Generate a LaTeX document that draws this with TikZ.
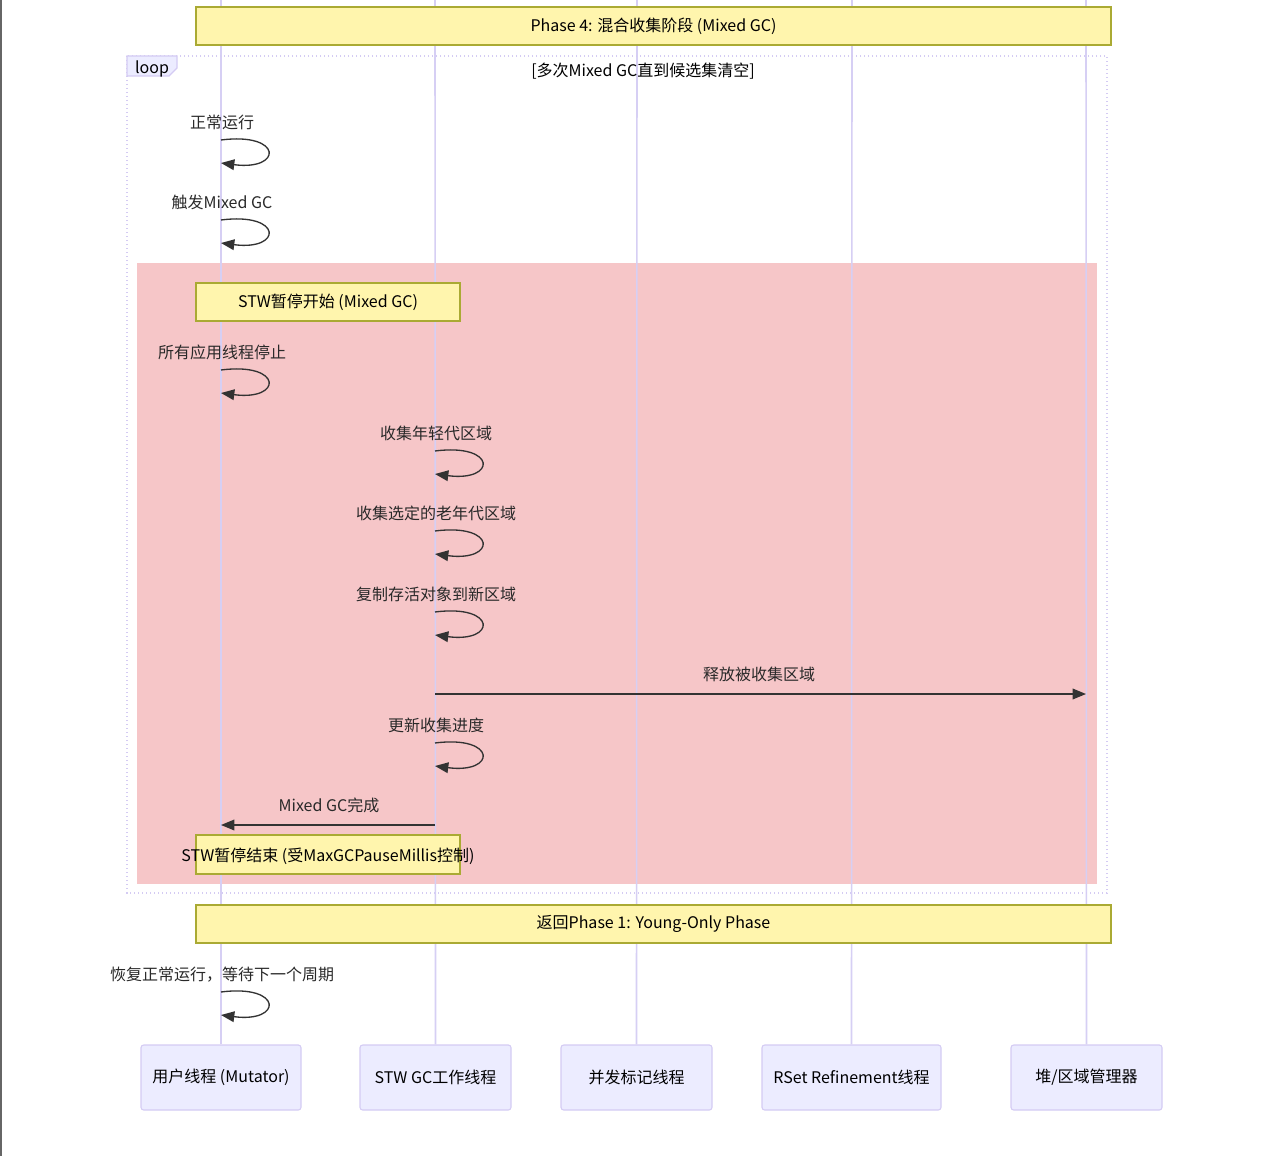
\documentclass[tikz,border=0pt]{standalone}
\usepackage{fontspec}
\setmainfont{Noto Sans CJK SC}
\usetikzlibrary{arrows.meta}
\definecolor{notafondo}{HTML}{FFF5AD}
\definecolor{notaborde}{HTML}{AAAA33}
\definecolor{actorfondo}{HTML}{ECECFF}
\definecolor{actorborde}{HTML}{D4CBF3}
\definecolor{vida}{HTML}{D6CFF4}
\definecolor{rosa}{HTML}{F6C6C8}
\definecolor{tinta}{HTML}{333333}

\begin{document}
\begin{tikzpicture}[x=0.75pt,y=-0.75pt,
   nota/.style={draw=notaborde,fill=notafondo,line width=0.8pt,inner sep=0pt,font=\fontsize{12}{14}\selectfont,text=black},
   actor/.style={draw=actorborde,fill=actorfondo,rounded corners=2pt,line width=0.8pt,inner sep=0pt,font=\fontsize{12}{14}\selectfont,text=black},
   rotulo/.style={font=\fontsize{12}{14}\selectfont,text=tinta!80!black,yshift=-1.2pt},
   msg/.style={draw=tinta,line width=1pt,-{Triangle[length=10pt,width=8pt]}},
   linea/.style={draw=vida,line width=1.2pt}]
  \useasboundingbox (0,0) rectangle (1268,1156);
  \fill[white] (0,0) rectangle (1268,1156);
  \draw[gray!80!black,line width=1.5pt] (1,0) -- (1,1156);
  % --- rect de la pausa STW ---
  \fill[rosa] (137,263) rectangle (1097,884);
  % --- participantes ---
  \node[actor,minimum width=160*0.75pt,minimum height=65*0.75pt] (mutador) at (221,1077.5) {用户线程 (Mutator)};
  \node[actor,minimum width=151*0.75pt,minimum height=65*0.75pt] (stw)     at (435.5,1077.5) {STW GC工作线程};
  \node[actor,minimum width=151*0.75pt,minimum height=65*0.75pt] (concur)  at (636.5,1077.5) {并发标记线程};
  \node[actor,minimum width=179*0.75pt,minimum height=65*0.75pt] (rset)    at (851.5,1077.5) {RSet Refinement线程};
  \node[actor,minimum width=151*0.75pt,minimum height=65*0.75pt] (heap)    at (1086.5,1077.5) {堆/区域管理器};
  % lineas de vida
  \foreach \a/\x in {mutador/221,stw/435,concur/637,rset/852,heap/1086} {
    \coordinate (\a-top) at (\x,0);
    \draw[linea] (\a.north) -- (\a-top);
  }
  % --- loop ---
  \draw[actorborde,line width=1pt,dotted] (127,56) rectangle (1107,893);
  \filldraw[draw=actorborde,fill=actorfondo,line width=0.8pt] (127,56) -- (177,56) -- (177,68) -- (169,76) -- (127,76) -- cycle;
  \node[rotulo,text=black] (bucle) at (152,67) {loop};
  \node[rotulo,text=black] (cond) at (643,69) {[多次Mixed GC直到候选集清空]};
  % --- notas ---
  \node[nota,minimum width=915*0.75pt,minimum height=38*0.75pt] (fase4) at (653.5,26) {Phase 4: 混合收集阶段 (Mixed GC)};
  \node[nota,minimum width=264*0.75pt,minimum height=38*0.75pt] (inicio) at (328,302) {STW暂停开始 (Mixed GC)};
  \node[nota,minimum width=264*0.75pt,minimum height=39*0.75pt] (fin) at (328,854.5) {};
  \node[rotulo,text=black] (fintxt) at (328,855) {STW暂停结束 (受MaxGCPauseMillis控制)};
  \node[nota,minimum width=915*0.75pt,minimum height=38*0.75pt] (fase1) at (653.5,924) {返回Phase 1: Young-Only Phase};
  % --- mensajes a si mismo ---
  \foreach \x/\y/\t in {221/121/正常运行,221/201/触发Mixed GC,221/351/所有应用线程停止,
                        435/432/收集年轻代区域,435/512/收集选定的老年代区域,435/593/复制存活对象到新区域,
                        435/724/更新收集进度,221/973/恢复正常运行，等待下一个周期} {
    \node[rotulo] (txt\y) at (\x+1,\y) {\t};
    \coordinate (ini\y) at (\x,\y+19);
    \coordinate (fin\y) at (\x,\y+42);
    \draw[msg] (ini\y) .. controls (\x+62,\y+11) and (\x+62,\y+50) .. (fin\y);
  }
  % --- mensajes ---
  \coordinate (libA) at (435,694);
  \coordinate (libB) at (1086,694);
  \draw[msg] (libA) -- (libB);
  \node[rotulo] (libtxt) at (759,673) {释放被收集区域};
  \coordinate (finA) at (435,825);
  \coordinate (finB) at (221,825);
  \draw[msg] (finA) -- (finB);
  \node[rotulo] (fintxt2) at (329,804) {Mixed GC完成};
\end{tikzpicture}
\end{document}
